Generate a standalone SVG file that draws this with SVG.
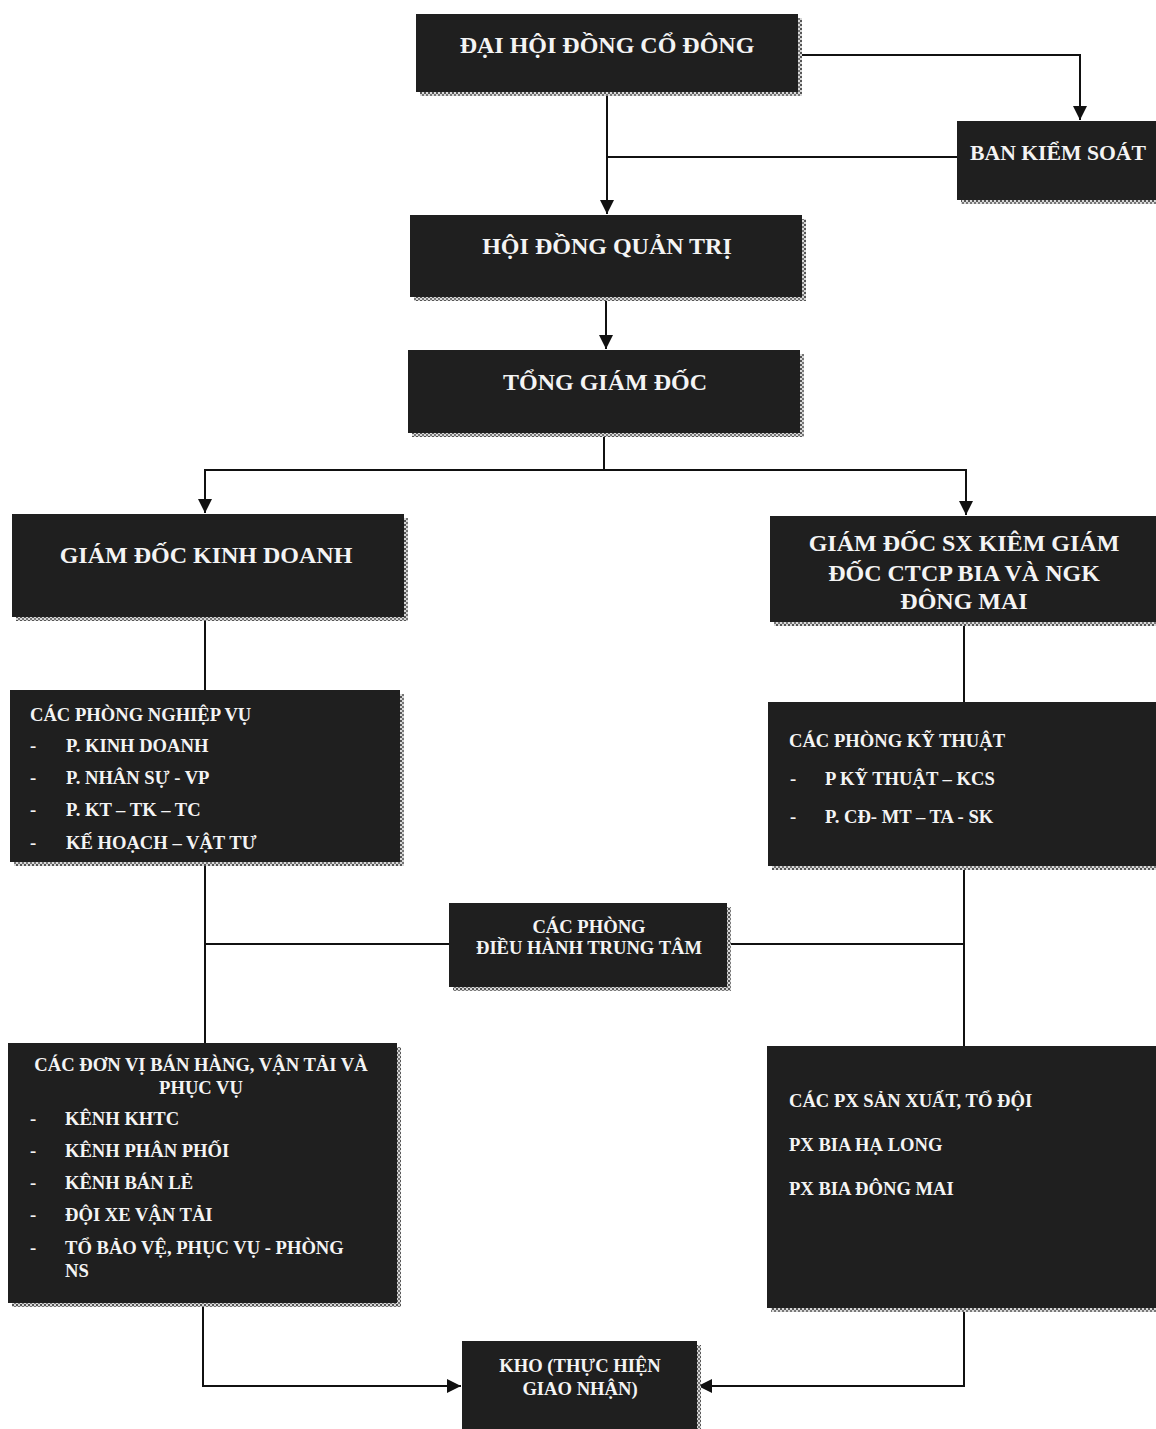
<svg xmlns="http://www.w3.org/2000/svg" width="1156" height="1429" viewBox="0 0 1156 1429">
<defs>
<pattern id="dots" width="4" height="4" patternUnits="userSpaceOnUse">
<rect width="4" height="4" fill="#d8d8d8"/>
<rect width="2" height="2" fill="#555"/>
<rect x="2" y="2" width="2" height="2" fill="#777"/>
</pattern>
<marker id="arr" viewBox="0 0 10 10" refX="10" refY="5" markerWidth="14" markerHeight="14" markerUnits="userSpaceOnUse" orient="auto">
<path d="M0,0 L10,5 L0,10 z" fill="#111"/>
</marker>
</defs>
<style>
.box{fill:#1f1f1f;}
.sh{fill:url(#dots);}
.t{font-family:"Liberation Serif","Times New Roman",serif;font-weight:bold;fill:#f4f4f4;}
.big{font-size:24px;}
.sm{font-size:18.6px;}
.c{text-anchor:middle;}
.ln{fill:none;stroke:#111;stroke-width:2;}
</style>
<rect width="1156" height="1429" fill="#ffffff"/>

<g id="connectors">
<path class="ln" d="M798,55 H1080 V120" marker-end="url(#arr)"/>
<path class="ln" d="M957,157 H607"/>
<path class="ln" d="M607,92 V214" marker-end="url(#arr)"/>
<path class="ln" d="M606,297 V349" marker-end="url(#arr)"/>
<path class="ln" d="M604,433 V470 H205 V513" marker-end="url(#arr)"/>
<path class="ln" d="M604,470 H966 V515" marker-end="url(#arr)"/>
<path class="ln" d="M205,617 V690"/>
<path class="ln" d="M205,862 V1043"/>
<path class="ln" d="M205,944 H449"/>
<path class="ln" d="M964,622 V702"/>
<path class="ln" d="M964,866 V1046"/>
<path class="ln" d="M727,944 H964"/>
<path class="ln" d="M203,1303 V1386 H461" marker-end="url(#arr)"/>
<path class="ln" d="M964,1308 V1386 H698" marker-end="url(#arr)"/>
</g>

<g id="n-daihoi">
<rect class="sh" x="420" y="18" width="382" height="78"/>
<rect class="box" x="416" y="14" width="382" height="78"/>
<text class="t big c" x="607" y="53">ĐẠI HỘI ĐỒNG CỔ ĐÔNG</text>
</g>

<g id="n-bks">
<rect class="sh" x="961" y="125" width="195" height="79"/>
<rect class="box" x="957" y="121" width="199" height="79"/>
<text class="t" style="font-size:22px" x="970" y="160" textLength="176" lengthAdjust="spacingAndGlyphs">BAN KIỂM SOÁT</text>
</g>

<g id="n-hdqt">
<rect class="sh" x="414" y="219" width="392" height="82"/>
<rect class="box" x="410" y="215" width="392" height="82"/>
<text class="t big c" x="607" y="254">HỘI ĐỒNG QUẢN TRỊ</text>
</g>

<g id="n-tgd">
<rect class="sh" x="412" y="354" width="392" height="83"/>
<rect class="box" x="408" y="350" width="392" height="83"/>
<text class="t big c" x="605" y="390">TỔNG GIÁM ĐỐC</text>
</g>

<g id="n-gdkd">
<rect class="sh" x="16" y="518" width="392" height="103"/>
<rect class="box" x="12" y="514" width="392" height="103"/>
<text class="t big c" x="206" y="563">GIÁM ĐỐC KINH DOANH</text>
</g>

<g id="n-gdsx">
<rect class="sh" x="774" y="520" width="382" height="106"/>
<rect class="box" x="770" y="516" width="386" height="106"/>
<text class="t big c" x="964" y="551">GIÁM ĐỐC SX KIÊM GIÁM</text>
<text class="t big c" x="964" y="581">ĐỐC CTCP BIA VÀ NGK</text>
<text class="t big c" x="964" y="609">ĐÔNG MAI</text>
</g>

<g id="n-nghiepvu">
<rect class="sh" x="14" y="694" width="390" height="172"/>
<rect class="box" x="10" y="690" width="390" height="172"/>
<text class="t sm" x="30" y="721">CÁC PHÒNG NGHIỆP VỤ</text>
<text class="t sm" x="30" y="752">-</text><text class="t sm" x="66" y="752">P. KINH DOANH</text>
<text class="t sm" x="30" y="784">-</text><text class="t sm" x="66" y="784">P. NHÂN SỰ - VP</text>
<text class="t sm" x="30" y="816">-</text><text class="t sm" x="66" y="816">P. KT – TK – TC</text>
<text class="t sm" x="30" y="849">-</text><text class="t sm" x="66" y="849">KẾ HOẠCH – VẬT TƯ</text>
</g>

<g id="n-kythuat">
<rect class="sh" x="772" y="706" width="384" height="164"/>
<rect class="box" x="768" y="702" width="388" height="164"/>
<text class="t sm" x="789" y="747">CÁC PHÒNG KỸ THUẬT</text>
<text class="t sm" x="790" y="785">-</text><text class="t sm" x="825" y="785">P KỸ THUẬT – KCS</text>
<text class="t sm" x="790" y="823">-</text><text class="t sm" x="825" y="823">P. CĐ- MT – TA - SK</text>
</g>

<g id="n-dieuhanh">
<rect class="sh" x="453" y="907" width="278" height="84"/>
<rect class="box" x="449" y="903" width="278" height="84"/>
<text class="t sm c" x="589" y="933">CÁC PHÒNG</text>
<text class="t sm c" x="589" y="954">ĐIỀU HÀNH TRUNG TÂM</text>
</g>

<g id="n-donvi">
<rect class="sh" x="12" y="1047" width="389" height="260"/>
<rect class="box" x="8" y="1043" width="389" height="260"/>
<text class="t sm c" x="201" y="1071">CÁC ĐƠN VỊ BÁN HÀNG, VẬN TẢI VÀ</text>
<text class="t sm c" x="201" y="1094">PHỤC VỤ</text>
<text class="t sm" x="30" y="1125">-</text><text class="t sm" x="65" y="1125">KÊNH KHTC</text>
<text class="t sm" x="30" y="1157">-</text><text class="t sm" x="65" y="1157">KÊNH PHÂN PHỐI</text>
<text class="t sm" x="30" y="1189">-</text><text class="t sm" x="65" y="1189">KÊNH BÁN LẺ</text>
<text class="t sm" x="30" y="1221">-</text><text class="t sm" x="65" y="1221">ĐỘI XE VẬN TẢI</text>
<text class="t sm" x="30" y="1254">-</text><text class="t sm" x="65" y="1254">TỔ BẢO VỆ, PHỤC VỤ - PHÒNG</text>
<text class="t sm" x="65" y="1277">NS</text>
</g>

<g id="n-px">
<rect class="sh" x="771" y="1050" width="385" height="262"/>
<rect class="box" x="767" y="1046" width="389" height="262"/>
<text class="t sm" x="789" y="1107">CÁC PX SẢN XUẤT, TỔ ĐỘI</text>
<text class="t sm" x="789" y="1151">PX BIA HẠ LONG</text>
<text class="t sm" x="789" y="1195">PX BIA ĐÔNG MAI</text>
</g>

<g id="n-kho">
<rect class="sh" x="466" y="1345" width="235" height="84"/>
<rect class="box" x="462" y="1341" width="235" height="88"/>
<text class="t sm c" x="580" y="1372">KHO (THỰC HIỆN</text>
<text class="t sm c" x="580" y="1395">GIAO NHẬN)</text>
</g>
</svg>
